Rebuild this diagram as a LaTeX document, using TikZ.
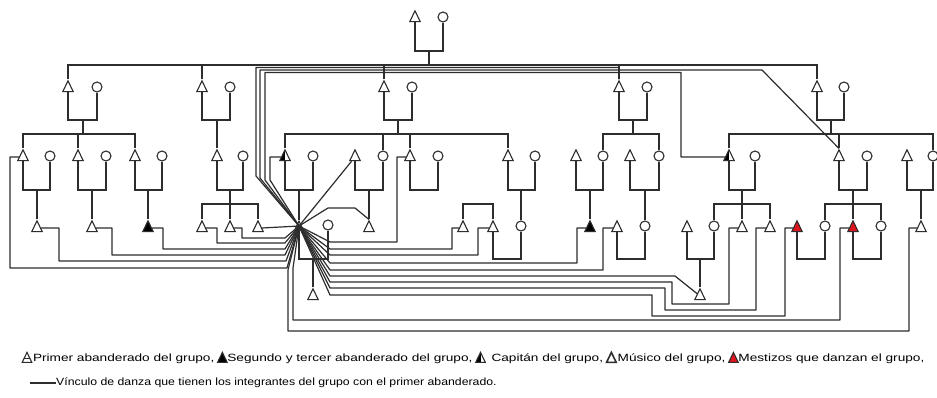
\documentclass[tikz,border=0pt]{standalone}
\usepackage{fontspec}
\setmainfont{Liberation Sans}
\usetikzlibrary{shapes.geometric, positioning}

\definecolor{linea}{RGB}{45,45,45}
\definecolor{rojo}{RGB}{225,20,30}

\tikzset{
  persona/.style={draw=linea, line width=1.1pt, fill=white, inner sep=0pt},
  varon/.style={persona, regular polygon, regular polygon sides=3, minimum size=12pt, yscale=1.2},
  mujer/.style={persona, circle, minimum size=10pt},
  negro/.style={varon, fill=black},
  mestizo/.style={varon, fill=rojo},
  capitan/.style={varon, path picture={\fill[black] (path picture bounding box.south west) rectangle (path picture bounding box.north);}},
  primero/.style={varon, path picture={\draw[linea, line width=0.8pt] ([yshift=-1pt]path picture bounding box.west) -- ([yshift=-1pt]path picture bounding box.east);}},
  musico/.style={varon, line width=1.6pt},
  kin/.style={draw=linea, line width=1.35pt},
  lazo/.style={draw=linea, line width=1.2pt, line join=round},
  simbolo/.style={minimum size=11pt},
  texto/.style={inner sep=0pt, font=\fontsize{10.5}{12}\selectfont},
}

% union de una pareja
\newcommand{\pareja}[3]{\draw[kin] (#1.south) |- (#2.south |- 0,#3) -- (#2.south);}
% texto de la leyenda, algo ensanchado
\newcommand{\ley}[2][1.3]{\scalebox{#1}[1]{#2}}

\begin{document}
\begin{tikzpicture}[x=1pt, y=-1pt]
    \useasboundingbox[fill=white] (0,0) rectangle (937,398);

    % Generacion 1
    \node[varon] (abuelo) at (415,18) {};
    \node[mujer] (abuela) at (443,17) {};

    % Generacion 2
    \node[varon] (hA) at (68,88) {};   \node[mujer] (mA) at (97,87) {};
    \node[varon] (hB) at (202,88) {};  \node[mujer] (mB) at (230,87) {};
    \node[varon] (hC) at (384,88) {};  \node[mujer] (mC) at (412,87) {};
    \node[varon] (hD) at (619,88) {};  \node[mujer] (mD) at (647,87) {};
    \node[varon] (hE) at (817,88) {};  \node[mujer] (mE) at (844,87) {};

    % Generacion 3
    \node[varon] (hA1) at (23,157) {};  \node[mujer] (mA1) at (50,156) {};
    \node[varon] (hA2) at (78,157) {};  \node[mujer] (mA2) at (106,156) {};
    \node[varon] (hA3) at (135,157) {}; \node[mujer] (mA3) at (162,156) {};
    \node[varon] (hB1) at (217,157) {}; \node[mujer] (mB1) at (243,156) {};
    \node[capitan] (hC1) at (285,157) {}; \node[mujer] (mC1) at (313,156) {};
    \node[varon] (hC2) at (355,157) {}; \node[mujer] (mC2) at (383,156) {};
    \node[varon] (hC3) at (410,157) {}; \node[mujer] (mC3) at (438,156) {};
    \node[varon] (hC4) at (508,157) {}; \node[mujer] (mC4) at (535,156) {};
    \node[varon] (hD1) at (576,157) {}; \node[mujer] (mD1) at (603,156) {};
    \node[varon] (hD2) at (630,157) {}; \node[mujer] (mD2) at (659,156) {};
    \node[capitan] (hE1) at (729,157) {}; \node[mujer] (mE1) at (755,156) {};
    \node[varon] (hE2) at (839,157) {}; \node[mujer] (mE2) at (867,156) {};
    \node[varon] (hE3) at (907,157) {}; \node[mujer] (mE3) at (933,156) {};

    % Generacion 4
    \node[varon] (hA1a) at (37,228) {};
    \node[varon] (hA2a) at (92,228) {};
    \node[negro] (hA3a) at (148,228) {};
    \node[varon] (hB1a) at (202,228) {};
    \node[varon] (hB1b) at (230,228) {};
    \node[varon] (hB1c) at (258,228) {};
    \node[primero, minimum size=8pt] (hub) at (299,226) {};
    \node[mujer] (mHub) at (328,225) {};
    \node[varon] (hC2a) at (369,228) {};
    \node[varon] (hX) at (463,228) {};
    \node[varon] (hC4a) at (493,228) {};
    \node[mujer] (mC4a) at (521,226) {};
    \node[negro] (hD1a) at (590,228) {};
    \node[varon] (hD2a) at (617,228) {};
    \node[mujer] (mD2a) at (645,226) {};
    \node[varon] (hE1x) at (687,228) {};
    \node[mujer] (mE1a) at (714,226) {};
    \node[varon] (hE1b) at (742,228) {};
    \node[varon] (hE1c) at (770,228) {};
    \node[mestizo] (rE2x) at (797,228) {};
    \node[mujer] (mE2a) at (825,226) {};
    \node[mestizo] (rE2b) at (853,228) {};
    \node[mujer] (mE2c) at (881,226) {};
    \node[varon] (hE3a) at (921,228) {};

    % Generacion 5
    \node[varon] (hHub1) at (313,296) {};
    \node[varon] (hE1y) at (700,296) {};

    % Parentesco
    \pareja{abuelo}{abuela}{51}
    \draw[kin] (429,51) -- (429,65);
    \draw[kin] (hA.north) |- (hE.north |- 0,65) -- (hE.north);
    \foreach \n in {hB,hC,hD} \draw[kin] (\n.north) -- (\n.north |- 0,65);
    \pareja{hA}{mA}{120} \pareja{hB}{mB}{120} \pareja{hC}{mC}{120}
    \pareja{hD}{mD}{120} \pareja{hE}{mE}{120}

    \draw[kin] (83,120) -- (83,134);
    \draw[kin] (hA1.north) |- (hA3.north |- 0,134) -- (hA3.north);
    \draw[kin] (hA2.north) -- (hA2.north |- 0,134);
    \draw[kin] (hB1.north) -- (hB1.north |- 0,120);
    \draw[kin] (398,120) -- (398,134);
    \draw[kin] (hC1.north) |- (hC4.north |- 0,134) -- (hC4.north);
    \foreach \n in {mC2,hC3} \draw[kin] (\n.north) -- (\n.north |- 0,134);
    \draw[kin] (633,120) -- (633,134);
    \draw[kin] (mD1.north) |- (mD2.north |- 0,134) -- (mD2.north);
    \draw[kin] (831,120) -- (831,134);
    \draw[kin] (hE1.north) |- (mE3.north |- 0,134) -- (mE3.north);
    \draw[kin] (hE2.north) -- (hE2.north |- 0,134);

    \pareja{hA1}{mA1}{190} \pareja{hA2}{mA2}{190} \pareja{hA3}{mA3}{190}
    \pareja{hB1}{mB1}{190} \pareja{hC1}{mC1}{190} \pareja{hC2}{mC2}{190}
    \pareja{hC3}{mC3}{190} \pareja{hC4}{mC4}{190} \pareja{hD1}{mD1}{190}
    \pareja{hD2}{mD2}{190} \pareja{hE1}{mE1}{190} \pareja{hE2}{mE2}{190}
    \pareja{hE3}{mE3}{190}
    \foreach \n in {hA1a,hA2a,hA3a,hub,hC2a,mC4a,hD1a,mD2a,hE3a}
      \draw[kin] (\n.north) -- (\n.north |- 0,190);

    \draw[kin] (230,190) -- (230,204);
    \draw[kin] (hB1a.north) |- (hB1c.north |- 0,204) -- (hB1c.north);
    \draw[kin] (hB1b.north) -- (hB1b.north |- 0,204);
    \draw[kin] (hX.north) |- (hC4a.north |- 0,204) -- (hC4a.north);
    \draw[kin] (742,190) -- (742,204);
    \draw[kin] (mE1a.north) |- (hE1c.north |- 0,204) -- (hE1c.north);
    \draw[kin] (hE1b.north) -- (hE1b.north |- 0,204);
    \draw[kin] (853,190) -- (853,204);
    \draw[kin] (mE2a.north) |- (mE2c.north |- 0,204) -- (mE2c.north);
    \draw[kin] (rE2b.north) -- (rE2b.north |- 0,204);

    \pareja{hub}{mHub}{259} \pareja{hC4a}{mC4a}{259} \pareja{hD2a}{mD2a}{259}
    \pareja{hE1x}{mE1a}{259} \pareja{rE2x}{mE2a}{259} \pareja{rE2b}{mE2c}{259}
    \draw[kin] (hHub1.north) -- (hHub1.north |- 0,259);
    \draw[kin] (hE1y.north) -- (hE1y.north |- 0,259);

    % Vinculos de danza, hacia la izquierda
    \draw[lazo] (hB1c.east) -- (hub.center);
    \draw[lazo] (hB1b.east) -| (242,238) -- (285,238) -- (hub.center);
    \draw[lazo] (hB1a.east) -| (217,243) -- (285,243) -- (hub.center);
    \draw[lazo] (hA3a.east) -| (163,249) -- (285,249) -- (hub.center);
    \draw[lazo] (hA2a.east) -| (112,255) -- (285,255) -- (hub.center);
    \draw[lazo] (hA1a.east) -| (59,261) -- (286,261) -- (hub.center);
    \draw[lazo] (hA1.west) -| (10,268) -- (287,268) -- (hub.center);

    % Vinculos hacia arriba
    \draw[lazo] (hC1.west) -| (270,180) -- (hub.center);
    \draw[lazo] (hub.center) -- (256,176) |- (hD.north |- 0,67.5) -- (hD.north);
    \draw[lazo] (hub.center) -- (260,178) |- (762,70) -- (hE2.north);
    \draw[lazo] (hub.center) -- (265,180) |- (681,72.5) |- (hE1.west);
    \draw[lazo] (hub.center) -- (hC2);
    \draw[lazo] (hub.center) -- (328,208) -- (355,208) -- (hC2a.north);

    % Vinculos hacia la derecha
    \draw[lazo] (hub.center) -- (330,242) -- (397,242) |- (hC3.west);
    \draw[lazo] (hub.center) -- (330,249) -- (452,249) |- (hX.west);
    \draw[lazo] (hub.center) -- (330,255) -- (478,255) |- (hC4a.west);
    \draw[lazo] (hub.center) -- (330,263) -- (577,263) |- (hD1a.west);
    \draw[lazo] (hub.center) -- (330,270) -- (603,270) |- (hD2a.west);
    \draw[lazo] (hub.center) -- (330,276) -- (675,276) -- (hE1y);
    \draw[lazo] (hub.center) -- (330,282) -- (672,282) -- (672,304) -- (729,304) |- (hE1b.west);
    \draw[lazo] (hub.center) -- (330,288) -- (665,288) -- (665,310) -- (756,310) |- (hE1c.west);
    \draw[lazo] (hub.center) -- (330,295) -- (652,295) -- (652,316) -- (785,316) |- (rE2x.west);
    \draw[lazo] (hub.center) -- (293,268) -- (293,320) -- (840,320) |- (rE2b.west);
    \draw[lazo] (hub.center) -- (288,270) -- (288,331) -- (909,331) |- (hE3a.west);

    % Leyenda
    \node[primero, simbolo] (s1) at (27,359) {};
    \node[texto, right=2pt of s1] (l1) {\ley{Primer abanderado del grupo,}};
    \node[negro, simbolo, right=4pt of l1] (s2) {};
    \node[texto, right=1pt of s2] (l2) {\ley{Segundo y tercer abanderado del grupo,}};
    \node[capitan, simbolo, right=4pt of l2] (s3) {};
    \node[texto, right=7pt of s3] (l3) {\ley{Capitán del grupo,}};
    \node[musico, simbolo, right=4pt of l3] (s4) {};
    \node[texto, right=2pt of s4] (l4) {\ley{Músico del grupo,}};
    \node[mestizo, simbolo, right=4pt of l4] (s5) {};
    \node[texto, right=1pt of s5] (l5) {\ley{Mestizos que danzan el grupo,}};
    \node[texto, anchor=west] (l6) at (56,383) {\ley[1.17]{Vínculo de danza que tienen los integrantes del grupo con el primer abanderado.}};
    \coordinate (raya) at (30,383);
    \draw[lazo, line width=1.4pt] (raya) -- (l6.west);
\end{tikzpicture}
\end{document}
